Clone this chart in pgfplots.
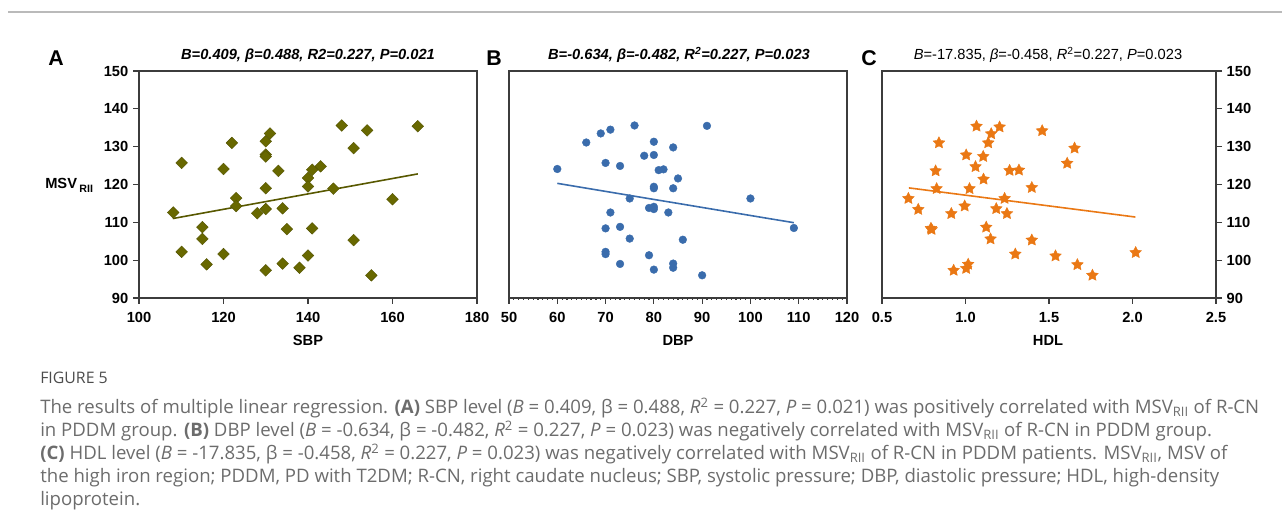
\documentclass[border=0pt]{standalone}
\usepackage{fontspec}
\setmainfont{Liberation Sans}
\newfontfamily\capfont{Open Sans}
\usepackage{pgfplots}
\pgfplotsset{compat=1.18}
\usetikzlibrary{plotmarks}

\definecolor{olivepts}{RGB}{104,104,0}
\definecolor{bluepts}{RGB}{58,108,172}
\definecolor{orangepts}{RGB}{234,120,20}
\definecolor{axgray}{RGB}{60,60,60}
\definecolor{capgray}{RGB}{108,108,108}

% filled five-point star
\pgfdeclareplotmark{fstar}{%
  \pgfpathmoveto{\pgfpointpolar{90}{\pgfplotmarksize}}%
  \pgfpathlineto{\pgfpointpolar{126}{0.5\pgfplotmarksize}}%
  \pgfpathlineto{\pgfpointpolar{162}{\pgfplotmarksize}}%
  \pgfpathlineto{\pgfpointpolar{198}{0.5\pgfplotmarksize}}%
  \pgfpathlineto{\pgfpointpolar{234}{\pgfplotmarksize}}%
  \pgfpathlineto{\pgfpointpolar{270}{0.5\pgfplotmarksize}}%
  \pgfpathlineto{\pgfpointpolar{306}{\pgfplotmarksize}}%
  \pgfpathlineto{\pgfpointpolar{342}{0.5\pgfplotmarksize}}%
  \pgfpathlineto{\pgfpointpolar{18}{\pgfplotmarksize}}%
  \pgfpathlineto{\pgfpointpolar{54}{0.5\pgfplotmarksize}}%
  \pgfpathclose
  \pgfusepathqfillstroke
}

\newcommand\tfont{\fontsize{11}{13}\selectfont}

\pgfplotsset{
  panel/.style={
    scale only axis, height=170.25pt,
    axis line style={axgray, line width=0.9pt},
    every tick/.style={axgray, line width=0.9pt},
    major tick length=4.5pt,
    tick align=outside,
    ymin=90, ymax=150, ytick={90,100,...,150},
    tick label style={font=\tfont\bfseries},
    xticklabel style={yshift=-2.5pt},
    /pgf/number format/assume math mode=true,
    clip=false,
  },
}

\begin{document}
\begin{tikzpicture}[x=0.75pt,y=0.75pt]
\path[use as bounding box] (0,0) rectangle (1282,530);
\draw[black!27, line width=1.1pt] (8,518) -- (1282,518);

% ---------- A: SBP ----------
\begin{axis}[panel, at={(104.25pt,174pt)}, anchor=south west, width=253.5pt,
  xmin=100, xmax=180, xtick={100,120,...,180}, tick pos=left]
\addplot[only marks, mark=square*, mark size=3.1pt,
  mark options={rotate=45, fill=olivepts, draw=olivepts!80!black, line width=0.3pt}]
coordinates {
  (108.1,112.6) (110.1,125.7) (110.1,102.2) (115,108.7) (115,105.6) (116,98.9)
  (120,124.1) (120,101.6) (122,131.0) (123,116.4) (123,114.3) (128,112.4)
  (130,131.4) (130,127.9) (130,127.4) (130,119.0) (130,113.5) (130,97.3)
  (131,133.5) (133,123.6) (134,113.7) (134,99.1) (135,108.2) (138,98.0)
  (140,121.7) (140,119.5) (140,101.2) (141,123.9) (141,108.4) (143,124.8)
  (146,118.9) (148,135.6) (150.8,129.6) (150.8,105.3) (154,134.3) (155,96.0)
  (160,116.1) (166,135.4)
};
\addplot[olivepts!85!black, line width=1.2pt, no marks] coordinates {(108,111.0) (166,122.8)};
\end{axis}

% ---------- B: DBP ----------
\begin{axis}[panel, at={(381.75pt,174pt)}, anchor=south west, width=253.5pt,
  xmin=50, xmax=120, xtick={50,60,...,120}, tick pos=left, ytick=\empty,
  minor x tick num=9, minor tick length=1.5pt]
\addplot[only marks, mark=*, mark size=2.9pt,
  mark options={fill=bluepts, draw=bluepts, line width=0.3pt}]
coordinates {
  (60,124.1) (66,131.1) (69,133.5) (71,134.5) (76,135.6) (91,135.5)
  (80,131.3) (84,129.8) (78,127.6) (80,127.8) (70,125.7) (73,124.9)
  (81,123.8) (82,124.0) (85,121.6) (80,119.4) (80,119.0) (84,119.0)
  (75,116.3) (100,116.3) (79,113.8) (80,114.1) (80,113.5) (83,112.6)
  (71,112.6) (70,108.4) (73,108.8) (109,108.5) (75,105.7) (86,105.4)
  (70,102.2) (70,101.6) (79,101.3) (73,99.0) (84,99.1) (84,98.0)
  (80,97.5) (90,96.0)
};
\addplot[bluepts, line width=1.2pt, no marks] coordinates {(60,120.3) (109,109.9)};
\end{axis}

% ---------- C: HDL ----------
\begin{axis}[panel, at={(661.5pt,174pt)}, anchor=south west, width=250.5pt,
  xmin=0.5, xmax=2.5, xtick={0.5,1,...,2.5}, xtick pos=left, ytick pos=right,
  yticklabel pos=right,
  xticklabel style={/pgf/number format/.cd, fixed, fixed zerofill, precision=1}]
\addplot[only marks, mark=fstar, mark size=4.6pt,
  mark options={fill=orangepts, draw=orangepts, line width=0.3pt}]
coordinates {
  (0.658,116.3) (0.717,113.4) (0.793,108.4) (0.797,108.1) (0.821,123.6)
  (0.827,118.9) (0.841,131.0) (0.915,112.3) (0.929,97.3) (0.995,114.3)
  (1.004,127.8) (1.004,97.8) (1.016,98.9) (1.024,118.9) (1.060,124.7)
  (1.066,135.4) (1.106,127.4) (1.108,121.4) (1.124,108.7) (1.136,131.0)
  (1.150,105.6) (1.154,133.4) (1.204,135.2) (1.184,113.6) (1.234,116.3)
  (1.248,112.3) (1.264,123.7) (1.320,123.8) (1.298,101.6) (1.397,119.2)
  (1.397,105.3) (1.459,134.2) (1.539,101.1) (1.609,125.6) (1.653,129.6)
  (1.670,98.8) (1.760,96.0) (2.019,102.0)
};
\addplot[orangepts, line width=1.2pt, no marks] coordinates {(0.661,119.1) (2.017,111.4)};
\end{axis}

% panel letters and titles
\node[anchor=base, font=\fontsize{16}{18}\selectfont\bfseries] at (56,464) {A};
\node[anchor=base, font=\fontsize{16}{18}\selectfont\bfseries] at (494,464) {B};
\node[anchor=base, font=\fontsize{16}{18}\selectfont\bfseries] at (869,464) {C};
\node[anchor=base, font=\tfont\bfseries\itshape] at (308,470) {B=0.409, β=0.488, R2=0.227, P=0.021};
\node[anchor=base, font=\tfont\bfseries\itshape] at (679,470) {B=-0.634, β=-0.482, R\textsuperscript{2}=0.227, P=0.023};
\node[anchor=base, font=\tfont] at (1048,470) {\textit{B}=-17.835, \textit{β}=-0.458, \textit{R}\textsuperscript{2}=0.227, \textit{P}=0.023};

% axis labels
\node[anchor=base, font=\tfont\bfseries] at (308,184) {SBP};
\node[anchor=base, font=\tfont\bfseries] at (678,184) {DBP};
\node[anchor=base, font=\tfont\bfseries] at (1048,184) {HDL};
\node[anchor=base west, font=\tfont\bfseries, inner sep=0pt] at (45,341) {MSV\,\raisebox{-0.45ex}{\fontsize{8}{9}\selectfont RII}};

% caption
\begin{scope}[every node/.style={anchor=base west, inner sep=0pt, text=capgray, font=\capfont\fontsize{13.95}{16}\selectfont}]
\node[font=\capfont\fontsize{11.9}{14}\selectfont, text=black!70] at (40,146) {FIGURE 5};
\node at (40,116) {The results of multiple linear regression. \textbf{(A)} SBP level (\textit{B} = 0.409, β = 0.488, \textit{R}\textsuperscript{2} = 0.227, \textit{P} = 0.021) was positively correlated with MSV\textsubscript{RII} of R-CN};
\node at (40,93) {in PDDM group. \textbf{(B)} DBP level (\textit{B} = -0.634, β = -0.482, \textit{R}\textsuperscript{2} = 0.227, \textit{P} = 0.023) was negatively correlated with MSV\textsubscript{RII} of R-CN in PDDM group.};
\node at (40,70) {\textbf{(C)} HDL level (\textit{B} = -17.835, β = -0.458, \textit{R}\textsuperscript{2} = 0.227, \textit{P} = 0.023) was negatively correlated with MSV\textsubscript{RII} of R-CN in PDDM patients. MSV\textsubscript{RII}, MSV of};
\node at (40,47) {the high iron region; PDDM, PD with T2DM; R-CN, right caudate nucleus; SBP, systolic pressure; DBP, diastolic pressure; HDL, high-density};
\node at (40,24) {lipoprotein.};
\end{scope}
\end{tikzpicture}
\end{document}
